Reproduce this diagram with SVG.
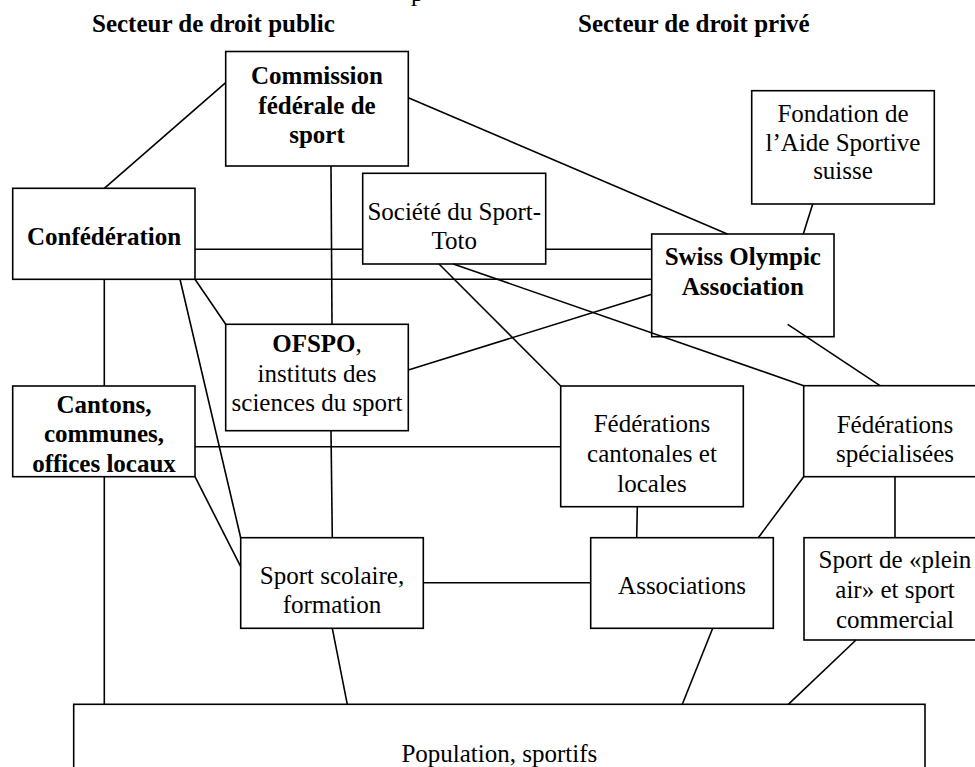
<svg xmlns="http://www.w3.org/2000/svg" width="975" height="767" viewBox="0 0 975 767">
<style>
  .box { fill: none; stroke: #000; stroke-width: 1.6; }
  .ln { stroke: #000; stroke-width: 1.6; fill: none; }
  text { font-family: "Liberation Serif", "Times New Roman", serif; font-size: 25px; fill: #000; text-anchor: middle; }
  .b { font-weight: bold; }
  .hd { font-weight: bold; text-anchor: start; }
</style>
<rect x="0" y="0" width="975" height="767" fill="#fff"/>
<text x="411" y="0.5" style="text-anchor:start">p</text>
<text class="hd" x="92" y="31.5">Secteur de droit public</text>
<text class="hd" x="578" y="31.5">Secteur de droit privé</text>

<g id="connectors">
  <line class="ln" x1="225.7" y1="82.7" x2="104.3" y2="188.3"/>
  <line class="ln" x1="408.3" y1="97.7" x2="727.3" y2="234"/>
  <line class="ln" x1="331" y1="166" x2="332" y2="324.3"/>
  <line class="ln" x1="195" y1="249.3" x2="362.7" y2="249.3"/>
  <line class="ln" x1="545.7" y1="249.3" x2="651.7" y2="249.3"/>
  <line class="ln" x1="195" y1="279.3" x2="651.7" y2="279.3"/>
  <line class="ln" x1="195" y1="279.3" x2="225.7" y2="324.3"/>
  <line class="ln" x1="180" y1="279.3" x2="240.7" y2="537.7"/>
  <line class="ln" x1="104.3" y1="279.3" x2="104.3" y2="386"/>
  <line class="ln" x1="104.3" y1="476.7" x2="104.3" y2="704.3"/>
  <line class="ln" x1="195" y1="476.7" x2="240.7" y2="566.7"/>
  <line class="ln" x1="195" y1="446.7" x2="560.7" y2="446.7"/>
  <line class="ln" x1="331" y1="430.7" x2="332.3" y2="537.7"/>
  <line class="ln" x1="408.3" y1="370" x2="651.7" y2="294.3"/>
  <line class="ln" x1="439" y1="264" x2="560.7" y2="386"/>
  <line class="ln" x1="453.3" y1="264" x2="803.7" y2="385.7"/>
  <line class="ln" x1="787.7" y1="324.3" x2="880" y2="385.7"/>
  <line class="ln" x1="812.7" y1="204" x2="803.3" y2="234"/>
  <line class="ln" x1="637.3" y1="506.7" x2="636.7" y2="537.7"/>
  <line class="ln" x1="803.7" y1="476.7" x2="758.3" y2="537.7"/>
  <line class="ln" x1="895" y1="476.7" x2="895" y2="537.7"/>
  <line class="ln" x1="423.3" y1="582.7" x2="590.7" y2="582.7"/>
  <line class="ln" x1="332.3" y1="628.3" x2="347.3" y2="704.3"/>
  <line class="ln" x1="712.7" y1="628.3" x2="682.3" y2="704.3"/>
  <line class="ln" x1="856" y1="640" x2="788.3" y2="704.3"/>
</g>

<g id="commission">
  <rect class="box" x="225.7" y="51.5" width="182.6" height="114.5"/>
  <text class="b" x="317" y="84">Commission</text>
  <text class="b" x="317" y="113.5">fédérale de</text>
  <text class="b" x="317" y="143">sport</text>
</g>
<g id="confederation">
  <rect class="box" x="12.7" y="188.3" width="182.3" height="91"/>
  <text class="b" x="104" y="245">Confédération</text>
</g>
<g id="sporttoto">
  <rect class="box" x="362.7" y="173.3" width="183" height="90.7"/>
  <text x="454.2" y="220">Société du Sport-</text>
  <text x="454.2" y="249.3">Toto</text>
</g>
<g id="fondation">
  <rect class="box" x="751.7" y="90.7" width="182.6" height="113.3"/>
  <text x="843" y="121.7">Fondation de</text>
  <text x="843" y="150.7">l’Aide Sportive</text>
  <text x="843" y="179.3">suisse</text>
</g>
<g id="swissolympic">
  <rect class="box" x="651.7" y="234" width="182.3" height="102.7"/>
  <text class="b" x="742.8" y="265">Swiss Olympic</text>
  <text class="b" x="742.8" y="295">Association</text>
</g>
<g id="ofspo">
  <rect class="box" x="225.7" y="324.3" width="182.6" height="106.4"/>
  <text x="317" y="352"><tspan class="b">OFSPO</tspan>,</text>
  <text x="317" y="381.5">instituts des</text>
  <text x="317" y="411">sciences du sport</text>
</g>
<g id="cantons">
  <rect class="box" x="12.7" y="386" width="182.3" height="90.7"/>
  <text class="b" x="104" y="413">Cantons,</text>
  <text class="b" x="104" y="442">communes,</text>
  <text class="b" x="104" y="471.5">offices locaux</text>
</g>
<g id="fedcantonales">
  <rect class="box" x="560.7" y="386" width="182.6" height="120.7"/>
  <text x="652" y="431.7">Fédérations</text>
  <text x="652" y="461.5">cantonales et</text>
  <text x="652" y="491.5">locales</text>
</g>
<g id="fedspecialisees">
  <rect class="box" x="803.7" y="385.7" width="182.6" height="91"/>
  <text x="895" y="433">Fédérations</text>
  <text x="895" y="462">spécialisées</text>
</g>
<g id="sportscolaire">
  <rect class="box" x="240.7" y="537.7" width="182.6" height="90.6"/>
  <text x="332" y="584">Sport scolaire,</text>
  <text x="332" y="613.3">formation</text>
</g>
<g id="associations">
  <rect class="box" x="590.7" y="537.7" width="182.6" height="90.6"/>
  <text x="682" y="594.3">Associations</text>
</g>
<g id="pleinair">
  <rect class="box" x="804" y="537.7" width="182.6" height="102.3"/>
  <text x="895" y="568.3">Sport de «plein</text>
  <text x="895" y="598.3">air» et sport</text>
  <text x="895" y="628.3">commercial</text>
</g>
<g id="population">
  <rect class="box" x="73.7" y="704.3" width="851.3" height="100"/>
  <text x="499.3" y="761.7">Population, sportifs</text>
</g>
</svg>
